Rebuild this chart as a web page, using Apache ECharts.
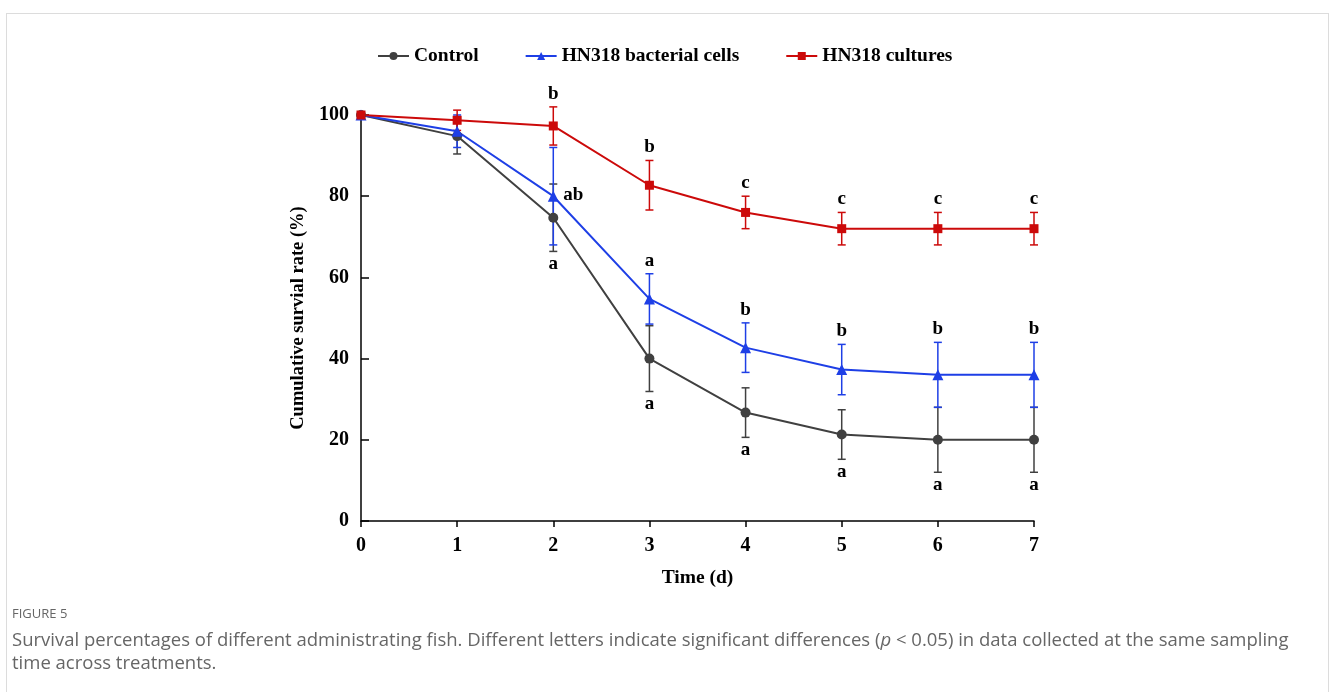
<!DOCTYPE html>
<html>
<head>
<meta charset="utf-8">
<script src="https://cdn.jsdelivr.net/npm/echarts@6/dist/echarts.min.js"></script>
<style>
  body { margin: 0; background: #fff; }
  #wrap { position: relative; width: 1330px; height: 692px; overflow: hidden; }
  #frame { position: absolute; left: 6px; top: 13px; width: 1323px; height: 700px; border: 1px solid #dcdcdc; box-sizing: border-box; }
  #main { position: absolute; left: 0; top: 0; width: 1330px; height: 692px; }
  .fig { position: absolute; left: 12px; top: 604px; font-family: "Open Sans", "Noto Sans", sans-serif; font-size: 13px; color: #666; }
  .cap { position: absolute; left: 12px; top: 627px; width: 1310px; font-family: "Open Sans", "Noto Sans", sans-serif; font-size: 18.5px; line-height: 23px; color: #666; white-space: nowrap; }
</style>
</head>
<body>
<div id="wrap">
  <div id="frame"></div>
  <div id="main"></div>
  <div class="fig">FIGURE 5</div>
  <div class="cap">Survival percentages of different administrating fish. Different letters indicate significant differences (<i>p</i> &lt; 0.05) in data collected at the same sampling<br>time across treatments.</div>
</div>
<script>
// 数据
var days = [0, 1, 2, 3, 4, 5, 6, 7];
var seriesNames = ["Control", "HN318 bacterial cells", "HN318 cultures"];

var controlMean = [100, 94.8, 74.7, 40, 26.7, 21.3, 20, 20];
var controlSd   = [0, 4.4, 8.3, 8.1, 6.1, 6.1, 8, 8];
var controlSig  = ["", "", "a", "a", "a", "a", "a", "a"];

var cellsMean = [100, 96, 80, 54.7, 42.7, 37.3, 36, 36];
var cellsSd   = [0, 4, 12, 6.2, 6.1, 6.2, 8, 8];
var cellsSig  = ["", "", "ab", "a", "b", "b", "b", "b"];

var cultMean = [100, 98.7, 97.3, 82.7, 76, 72, 72, 72];
var cultSd   = [0, 2.5, 4.7, 6.1, 4, 4, 4, 4];
var cultSig  = ["", "", "b", "b", "c", "c", "c", "c"];

var yTicks = [0, 20, 40, 60, 80, 100];

var colors = ["#404040", "#1e3fe6", "#cc0a0a"];
var symbols = ["circle", "triangle", "rect"];
var symbolSizes = [10, 11, 9];
var serif = "'Liberation Serif', 'Times New Roman', serif";

var myChart = echarts.init(document.getElementById("main"));

var means = [controlMean, cellsMean, cultMean];
var sds = [controlSd, cellsSd, cultSd];
var sigs = [controlSig, cellsSig, cultSig];
// 字母位置: 对照组在下方, 其它在上方
var sides = ["below", "above", "above"];

function makeErrSeries(k) {
  var data = days.map(function (d, i) {
    return [d, means[k][i], sds[k][i]];
  });
  return {
    type: "custom",
    name: seriesNames[k] + " err",
    clip: false,
    z: 3,
    silent: true,
    data: data,
    encode: { x: 0, y: 1 },
    renderItem: function (params, api) {
      var x = api.value(0), m = api.value(1), s = api.value(2);
      var letter = sigs[k][params.dataIndex];
      var p = api.coord([x, m]);
      var top = api.coord([x, m + s]);
      var bot = api.coord([x, m - s]);
      var style = { stroke: colors[k], lineWidth: 1.5 };
      var children = [];
      if (s > 0) {
        children.push({ type: "line", shape: { x1: p[0], y1: top[1], x2: p[0], y2: bot[1] }, style: style });
        children.push({ type: "line", shape: { x1: p[0] - 4, y1: top[1], x2: p[0] + 4, y2: top[1] }, style: style });
        children.push({ type: "line", shape: { x1: p[0] - 4, y1: bot[1], x2: p[0] + 4, y2: bot[1] }, style: style });
      }
      if (letter) {
        var side = sides[k];
        if (k === 1 && params.dataIndex === 2) side = "right";
        var tx = p[0], ty, align = "center";
        if (side === "above") ty = top[1] - 13;
        else if (side === "below") ty = bot[1] + 13;
        else { tx = p[0] + 10; ty = p[1] - 1; align = "left"; }
        children.push({
          type: "text",
          style: {
            x: tx, y: ty, text: letter, align: align, verticalAlign: "middle",
            fill: "#000", font: "bold 19px " + serif
          }
        });
      }
      return { type: "group", children: children };
    }
  };
}

var lineSeries = seriesNames.map(function (name, k) {
  return {
    name: name,
    type: "line",
    z: 4,
    data: days.map(function (d, i) { return [d, means[k][i]]; }),
    symbol: symbols[k],
    symbolSize: symbolSizes[k],
    showAllSymbol: true,
    lineStyle: { color: colors[k], width: 2 },
    itemStyle: { color: colors[k] }
  };
});

var option = {
  animation: false,
  color: colors,
  legend: {
    top: 41,
    left: 372,
    itemGap: 46,
    itemWidth: 31,
    itemHeight: 10,
    textStyle: { fontFamily: serif, fontWeight: "bold", fontSize: 19.5, color: "#000" },
    data: seriesNames
  },
  grid: { left: 361, right: 296, top: 115, bottom: 171 },
  xAxis: {
    type: "value",
    min: 0,
    max: 7,
    interval: 1,
    name: "Time (d)",
    nameLocation: "middle",
    nameGap: 47,
    nameTextStyle: { fontFamily: serif, fontWeight: "bold", fontSize: 19.5, color: "#000" },
    splitLine: { show: false },
    axisLine: { lineStyle: { color: "#000", width: 1.5 } },
    axisTick: { length: 6, lineStyle: { color: "#000", width: 1.5 } },
    axisLabel: { margin: 15, fontFamily: serif, fontWeight: "bold", fontSize: 20, color: "#000" }
  },
  yAxis: {
    type: "value",
    min: 0,
    max: 100,
    interval: 20,
    name: "Cumulative survial rate (%)",
    nameLocation: "middle",
    nameGap: 50,
    nameTextStyle: { fontFamily: serif, fontWeight: "bold", fontSize: 18.5, color: "#000" },
    splitLine: { show: false },
    axisLine: { show: true, lineStyle: { color: "#000", width: 1.5 } },
    axisTick: { show: true, inside: true, length: 8, lineStyle: { color: "#000", width: 1.5 } },
    axisLabel: {
      margin: 12, fontFamily: serif, fontWeight: "bold", fontSize: 20, color: "#000",
      formatter: function (v) { return yTicks.indexOf(v) >= 0 ? String(v) : ""; }
    }
  },
  series: lineSeries.concat([makeErrSeries(0), makeErrSeries(1), makeErrSeries(2)])
};

myChart.setOption(option);
</script>
</body>
</html>
